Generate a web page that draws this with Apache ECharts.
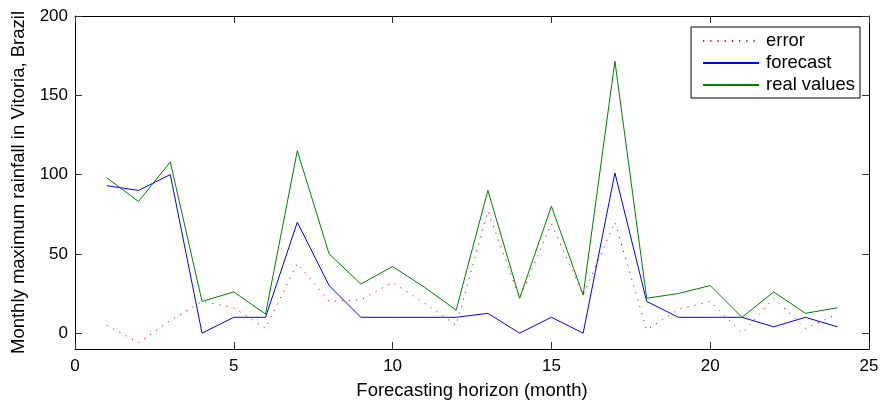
<!DOCTYPE html>
<html>
<head>
<meta charset="utf-8">
<script src="https://cdn.jsdelivr.net/npm/echarts@6/dist/echarts.min.js"></script>
<style>html,body{margin:0;padding:0;background:#fff;}#c{width:880px;height:401px;}</style>
</head>
<body>
<div id="c"></div>
<script>
const months = [1,2,3,4,5,6,7,8,9,10,11,12,13,14,15,16,17,18,19,20,21,22,23,24];
const errorVals    = [5, -6, 8, 20, 16, 3, 44, 20, 21, 32, 19, 5, 77, 22, 69, 24, 70, 2, 15, 20, 0, 22, 3, 12];
const forecastVals = [93, 90, 100, 0, 10, 10, 70, 30, 10, 10, 10, 10, 12.5, 0, 10, 0, 101, 20, 10, 10, 10, 4, 10, 4];
const realVals     = [98, 83, 108, 20, 26, 12, 115, 50, 31, 42, 29, 14.5, 90, 22, 80, 24, 171.5, 22, 25, 30, 10, 26, 12.5, 16];
const yTicks = [0, 50, 100, 150, 200];
const xTicks = [0, 5, 10, 15, 20, 25];

const pair = (ys) => months.map((m, i) => [m, ys[i]]);
const font = 'Liberation Sans, Arial, Helvetica, sans-serif';
const fs = 17;
const nameFs = 18.5;

const chart = echarts.init(document.getElementById('c'), null, {renderer: 'canvas'});
function tick() { return {show: true, inside: true, length: 7, lineStyle: {color: '#333', width: 1}}; }
function line() { return {show: true, onZero: false, lineStyle: {color: '#000', width: 1}}; }
chart.setOption({
  animation: false,
  backgroundColor: '#fff',
  textStyle: {fontFamily: font},
  grid: {left: 75, right: 11, top: 16, bottom: 52, containLabel: false, outerBoundsMode: 'none'},
  legend: {
    orient: 'vertical',
    right: 20, top: 27,
    backgroundColor: '#fff',
    borderColor: '#000', borderWidth: 1,
    padding: [5, 5, 4, 11],
    itemWidth: 56, itemHeight: 10, itemGap: 4,
    itemStyle: {opacity: 0},
    textStyle: {fontSize: 18.4, color: '#000', fontFamily: font, padding: [0, 0, 0, 2]},
    data: ['error', 'forecast', 'real values']
  },
  xAxis: [{
    type: 'value', min: 0, max: 25, interval: 5,
    name: 'Forecasting horizon (month)', nameLocation: 'middle', nameGap: 32,
    nameTextStyle: {fontSize: nameFs, color: '#000', fontFamily: font},
    axisLine: line(), axisTick: tick(),
    axisLabel: {fontSize: fs, color: '#000', margin: 9, fontFamily: font},
    splitLine: {show: false}
  }, {
    type: 'value', min: 0, max: 25, interval: 5, position: 'top',
    axisLine: line(), axisTick: tick(), axisLabel: {show: false}, splitLine: {show: false}
  }],
  yAxis: [{
    type: 'value', min: -10, max: 200,
    name: 'Monthly maximum rainfall in Vitoria, Brazil', nameLocation: 'middle', nameGap: 47,
    nameTextStyle: {fontSize: nameFs, color: '#000', fontFamily: font},
    axisLine: line(),
    axisTick: Object.assign(tick(), {customValues: yTicks}),
    axisLabel: {fontSize: fs, color: '#000', margin: 7, fontFamily: font, customValues: yTicks},
    splitLine: {show: false}
  }, {
    type: 'value', min: -10, max: 200, position: 'right',
    axisLine: line(),
    axisTick: Object.assign(tick(), {customValues: yTicks}),
    axisLabel: {show: false}, splitLine: {show: false}
  }],
  series: [
    {name: 'error', type: 'line', data: pair(errorVals), symbol: 'none',
     lineStyle: {color: '#ff0000', width: 1, type: [1.2, 6]}, itemStyle: {color: '#ff0000'}, z: 2},
    {name: 'forecast', type: 'line', data: pair(forecastVals), symbol: 'none',
     lineStyle: {color: '#0000ff', width: 1}, itemStyle: {color: '#0000ff'}, z: 3},
    {name: 'real values', type: 'line', data: pair(realVals), symbol: 'none',
     lineStyle: {color: '#008000', width: 1}, itemStyle: {color: '#008000'}, z: 4}
  ]
});
</script>
</body>
</html>
